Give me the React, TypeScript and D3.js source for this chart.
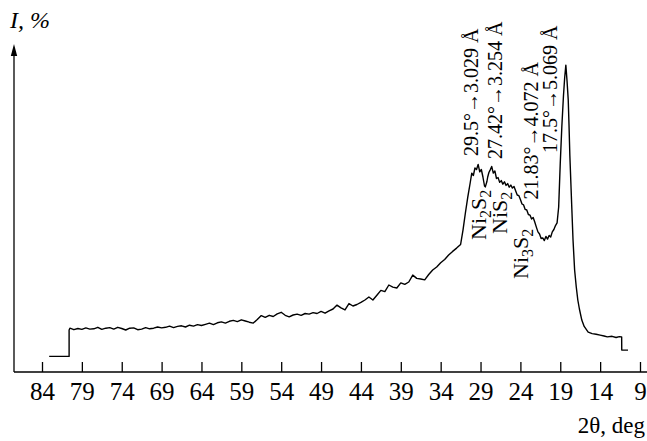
import React, { useRef, useEffect } from 'react';
import * as d3 from 'd3';

// 2θ (deg) and intensity
const theta2: number[] = [
  83.1, 80.6, 80.6, 80.5, 80, 79.5, 79, 78.5, 78, 77.5, 77, 76.5, 76, 75.5, 75, 74.5, 74, 73.5, 73,
  72.5, 72, 71.5, 71, 70.5, 70, 69.5, 69, 68.5, 68, 67.5, 67, 66.5, 66, 65.5, 65, 64.5, 64, 63.5,
  63, 62.5, 62, 61.5, 61, 60.5, 60, 59.5, 59, 58.5, 58, 57.5, 57, 56.5, 56, 55.5, 55, 54.5, 54,
  53.5, 53, 52.5, 52, 51.5, 51, 50.5, 50, 49.5, 49, 48.5, 48, 47.5, 47, 46.5, 46, 45.5, 45, 44.5,
  44, 43.5, 43, 42.5, 42, 41.5, 41, 40.5, 40, 39.5, 39, 38.5, 38, 37.5, 37, 36.5, 36, 35.5, 35,
  34.5, 34, 33.5, 33, 32.5, 32, 31.5, 31.2, 30.9, 30.6, 30.3, 30.1, 29.9, 29.7, 29.5, 29.3, 29.1,
  28.9, 28.7, 28.5, 28.4, 28.2, 28.1, 27.95, 27.8, 27.6, 27.4, 27.2, 27, 26.8, 26.6, 26.4, 26.2,
  26, 25.8, 25.6, 25.4, 25.2, 25, 24.8, 24.6, 24.4, 24.2, 24, 23.8, 23.6, 23.4, 23.2, 23, 22.8,
  22.6, 22.4, 22.2, 22, 21.8, 21.6, 21.4, 21.2, 21, 20.8, 20.6, 20.4, 20.2, 20, 19.8, 19.6, 19.4,
  19.2, 19, 18.8, 18.6, 18.45, 18.3, 18.15, 18, 17.9, 17.8, 17.6, 17.4, 17.2, 17, 16.8, 16.6,
  16.3, 16, 15.5, 15, 14.5, 14, 13.5, 13.1, 12.5, 12, 11.6, 11.3, 11.29, 10.5,
];

const intensity: number[] = [
  5.2, 5.2, 14.0, 14.6, 14.1, 14.5, 14.2, 14.7, 14.3, 14.4, 14.9, 14.2, 14.6, 14.8, 14.3, 14.9,
  14.5, 14.0, 14.6, 14.7, 14.1, 14.3, 14.8, 14.4, 14.6, 15.0, 14.7, 14.9, 15.3, 14.8, 15.2, 15.4,
  15.0, 15.6, 15.3, 15.8, 15.5, 15.9, 16.3, 15.8, 16.4, 16.7, 16.3, 16.9, 17.2, 16.8, 17.4, 17.0,
  16.6, 16.3, 17.5, 18.8, 18.2, 18.9, 18.5, 19.4, 19.9, 18.9, 18.4, 19.0, 19.3, 18.9, 19.5, 19.3,
  19.8, 19.5, 20.2, 19.6, 20.4, 21.0, 22.3, 21.4, 20.7, 22.8, 22.0, 22.5, 23.2, 24.0, 25.0, 24.0,
  25.6, 27.2, 26.8, 29.0, 28.3, 28.0, 29.7, 29.2, 30.0, 32.3, 31.2, 31.0, 30.7, 32.5, 34.0, 35.0,
  36.4, 37.5, 39.0, 40.2, 41.3, 42.5, 47.3, 53.0, 58.3, 63.0, 66.3, 65.5, 68.0, 67.5, 69.2, 66.7,
  67.5, 65.0, 62.0, 61.7, 63.5, 65.0, 66.5, 67.3, 68.5, 66.3, 67.0, 64.5, 64.8, 63.2, 63.8, 62.6,
  63.4, 62.2, 62.8, 61.6, 62.3, 61.3, 61.8, 60.4, 59.0, 58.8, 57.5, 56.0, 55.7, 54.2, 54.0, 52.5,
  52.3, 51.0, 51.5, 50.0, 48.3, 46.7, 46.0, 44.5, 44.7, 43.8, 45.2, 44.3, 45.5, 45.0, 46.7, 47.5,
  48.8, 49.7, 55.0, 69.7, 82.0, 92.0, 98.0, 102.3, 97.0, 90.7, 82.0, 72.3, 58.0, 44.0, 34.0, 28.5,
  24.0, 21.0, 17.3, 15.2, 13.3, 12.8, 12.6, 12.3, 12.0, 11.7, 11.9, 11.5, 11.8, 11.7, 7.3, 7.3,
];

const tickValues: number[] = [84, 79, 74, 69, 64, 59, 54, 49, 44, 39, 34, 29, 24, 19, 14, 9];

// rotated peak notes: [2θ anchor, text]
const peakNotes: [number, string][] = [
  [29.3, '29.5°→3.029 Å'],
  [26.3, '27.42°→3.254 Å'],
  [21.8, '21.83°→4.072 Å'],
  [19.4, '17.5°→5.069 Å'],
];
const peakNoteBase: number[] = [72, 71, 57.5, 73];

// phase names: [2θ anchor, parts (text, subscript?)]
const phases: [number, [string, boolean][]][] = [
  [28.3, [['Ni', false], ['2', true], ['S', false], ['2', true]]],
  [25.7, [['Ni', false], ['S', false], ['2', true]]],
  [23.05, [['Ni', false], ['3', true], ['S', false], ['2', true]]],
];
const phaseBase: number[] = [44, 46, 31];

const W = 647;
const H = 441;

const App = () => {
  const svgRef = useRef<SVGSVGElement>(null);

  useEffect(() => {
    const svg = d3.select(svgRef.current);
    svg.selectAll('*').remove();

    const x = d3.scaleLinear().domain([84, 9]).range([42, 640]);
    const y = d3.scaleLinear().domain([0, 109]).range([372, 45]);
    const font = "'Liberation Serif', 'Times New Roman', serif";

    // x axis
    svg.append('line')
      .attr('x1', 14).attr('x2', W).attr('y1', y(0)).attr('y2', y(0))
      .attr('stroke', '#000').attr('stroke-width', 1.3);

    const axis = svg.append('g')
      .attr('transform', `translate(0,${y(0)})`)
      .call(d3.axisBottom(x).tickValues(tickValues).tickSize(-10).tickPadding(10).tickFormat(d3.format('d')));
    axis.select('.domain').remove();
    axis.selectAll('line').attr('stroke', '#000').attr('stroke-width', 1.3);
    axis.selectAll('text')
      .style('font-family', font).style('font-size', '25px').attr('fill', '#000');

    // y axis with arrow
    svg.append('line')
      .attr('x1', 14).attr('x2', 14).attr('y1', y(0)).attr('y2', 52)
      .attr('stroke', '#000').attr('stroke-width', 1.3);
    svg.append('path')
      .attr('d', 'M14,44 L10.8,56 L17.2,56 Z')
      .attr('fill', '#000');

    svg.append('text')
      .attr('x', 10).attr('y', 28)
      .style('font-family', font).style('font-size', '24px').attr('font-style', 'italic')
      .text('I, %');

    svg.append('text')
      .attr('x', 645).attr('y', 433).attr('text-anchor', 'end')
      .style('font-family', font).style('font-size', '23px')
      .text('2θ, deg');

    // curve
    const pts = theta2.map((t, i) => [t, intensity[i]] as [number, number]);
    svg.append('path')
      .datum(pts)
      .attr('fill', 'none')
      .attr('stroke', '#000')
      .attr('stroke-width', 1.4)
      .attr('stroke-linejoin', 'round')
      .attr('d', d3.line<[number, number]>().x((d) => x(d[0])).y((d) => y(d[1])));

    // peak notes
    peakNotes.forEach(([t, txt], i) => {
      svg.append('text')
        .attr('transform', `translate(${x(t)},${y(peakNoteBase[i])}) rotate(-90)`)
        .style('font-family', font).style('font-size', '20px')
        .text(txt);
    });

    // phase labels
    phases.forEach(([t, parts], i) => {
      const txt = svg.append('text')
        .attr('transform', `translate(${x(t)},${y(phaseBase[i])}) rotate(-90)`)
        .style('font-family', font).style('font-size', '22px');
      let sub = false;
      parts.forEach(([s, isSub]) => {
        const ts = txt.append('tspan').text(s);
        if (isSub && !sub) ts.attr('dy', 5).style('font-size', '16px');
        else if (!isSub && sub) ts.attr('dy', -5);
        else if (isSub) ts.style('font-size', '16px');
        sub = isSub;
      });
    });
  }, []);

  return (
    <div style={{ position: 'fixed', left: 0, top: 0 }}>
      <svg ref={svgRef} width={W} height={H} style={{ display: 'block', background: '#fff' }} />
    </div>
  );
};

export default App;
